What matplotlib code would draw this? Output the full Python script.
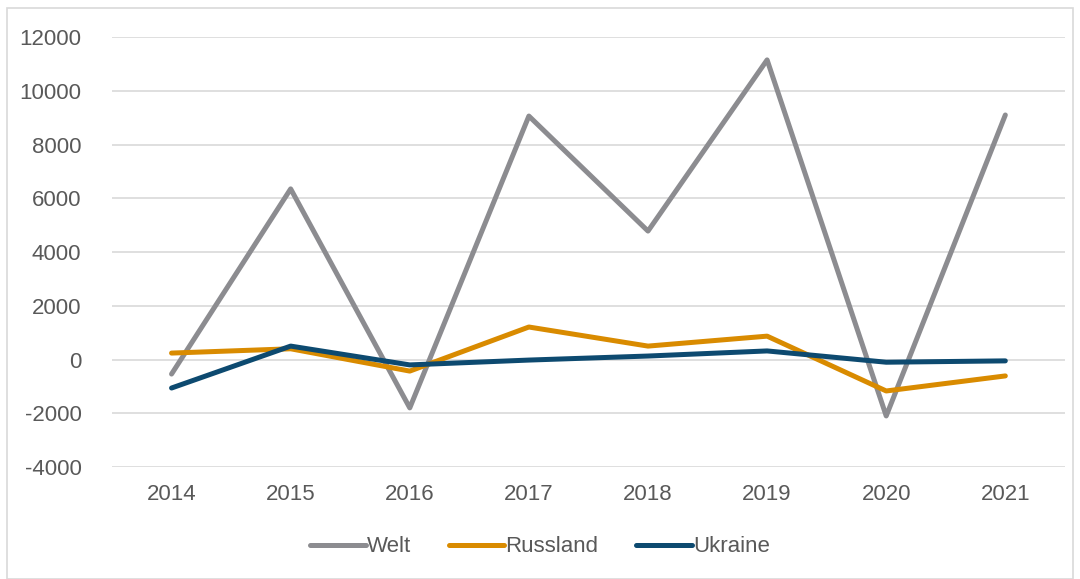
import matplotlib.pyplot as plt
from matplotlib.patches import Rectangle

plt.rcParams['font.family'] = ['Liberation Sans', 'DejaVu Sans']
plt.rcParams['axes.unicode_minus'] = False

years = ['2014', '2015', '2016', '2017', '2018', '2019', '2020', '2021']
welt = [-540, 6350, -1800, 9060, 4780, 11150, -2100, 9100]
russland = [240, 400, -430, 1210, 500, 870, -1170, -610]
ukraine = [-1060, 500, -200, -20, 130, 320, -100, -50]

fig = plt.figure(figsize=(10.8, 5.79), dpi=100)
ax = fig.add_axes([0.1037, 0.1934, 0.8823, 0.7426])

# chart border
fig.patches.append(Rectangle((7 / 1080, 0), 1066 / 1080, 1 - 8 / 579, transform=fig.transFigure,
                             fill=False, edgecolor='#D9D9D9', linewidth=1.2))

x = range(len(years))
ax.plot(x, welt, color='#8C8C90', lw=3.6, label='Welt', solid_capstyle='round')
ax.plot(x, russland, color='#D98B00', lw=3.6, label='Russland', solid_capstyle='round')
ax.plot(x, ukraine, color='#0D4A70', lw=3.6, label='Ukraine', solid_capstyle='round')

ax.set_xlim(-0.5, len(years) - 0.5)
ax.set_ylim(-4000, 12000)
ax.set_yticks(range(-4000, 12001, 2000))
ax.set_xticks(list(x))
ax.set_xticklabels(years)
ax.grid(axis='y', color='#D9D9D9', lw=1.2)
ax.set_axisbelow(True)
for s in ax.spines.values():
    s.set_visible(False)
ax.tick_params(length=0, labelsize=16, labelcolor='#595959')
ax.tick_params(axis='y', pad=22)
ax.tick_params(axis='x', pad=12)

fig.legend(loc='center', bbox_to_anchor=(0.5, 1 - 547 / 579), ncol=3, frameon=False,
           fontsize=16, labelcolor='#595959', handlelength=2.5, handletextpad=0.05, columnspacing=1.7)

fig.savefig('out.png', dpi=100)
